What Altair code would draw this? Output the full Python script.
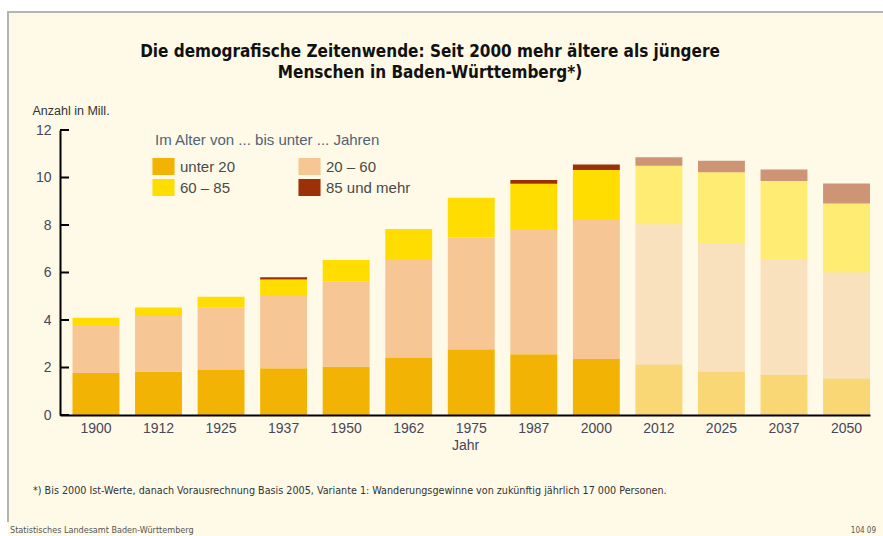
import altair as alt
import pandas as pd

years = ["1900", "1912", "1925", "1937", "1950", "1962", "1975", "1987", "2000",
         "2012", "2025", "2037", "2050"]
groups = ["unter 20", "20 – 60", "60 – 85", "85 und mehr"]
under20 = [1.77, 1.82, 1.89, 1.97, 2.03, 2.40, 2.77, 2.56, 2.36, 2.13, 1.83, 1.69, 1.54]
age20_60 = [2.02, 2.35, 2.64, 3.08, 3.60, 4.17, 4.70, 5.27, 5.85, 5.90, 5.37, 4.87, 4.46]
age60_85 = [0.31, 0.36, 0.45, 0.66, 0.90, 1.26, 1.68, 1.91, 2.11, 2.47, 3.02, 3.29, 2.91]
age85 = [0.0, 0.0, 0.0, 0.09, 0.0, 0.0, 0.0, 0.15, 0.23, 0.35, 0.49, 0.49, 0.84]
kind = ["Ist"] * 9 + ["Vorausrechnung"] * 4
colors = ["#F3B304", "#F6C795", "#FFDD00", "#9C3006"]
y_ticks = [0, 2, 4, 6, 8, 10, 12]

title_lines = ["Die demografische Zeitenwende: Seit 2000 mehr ältere als jüngere",
               "Menschen in Baden-Württemberg*)"]
footnote = ("*) Bis 2000 Ist-Werte, danach Vorausrechnung Basis 2005, Variante 1: "
            "Wanderungsgewinne von zukünftig jährlich 17 000 Personen.")
source = "Statistisches Landesamt Baden-Württemberg"
code = "104 09"

rows = []
for i, yr in enumerate(years):
    for j, (g, vals) in enumerate(zip(groups, [under20, age20_60, age60_85, age85])):
        rows.append({"Jahr": yr, "Gruppe": g, "Wert": vals[i], "idx": j, "Art": kind[i]})
df = pd.DataFrame(rows)

NARROW = "DejaVu Sans Condensed, sans-serif"
SANS = "Liberation Sans, Arial, sans-serif"
BG = "#FEFAE7"
one = pd.DataFrame({"k": [0]})

# decorative panel (cream card with grey left/top edge)
panel = alt.Chart(one).mark_rect(color=BG).encode(
    x=alt.value(-52), x2=alt.value(840), y=alt.value(-118), y2=alt.value(420)
)
edge_left = alt.Chart(one).mark_rule(color="#B4B4B4", strokeWidth=2).encode(
    x=alt.value(-52), y=alt.value(-119), y2=alt.value(392)
)
edge_top = alt.Chart(one).mark_rule(color="#B4B4B4", strokeWidth=2).encode(
    x=alt.value(-53), x2=alt.value(840), y=alt.value(-118)
)

bars = alt.Chart(df).mark_bar().encode(
    x=alt.X("Jahr:N", sort=years,
            scale=alt.Scale(paddingInner=0.25, paddingOuter=0.1, align=1),
            axis=alt.Axis(title="Jahr", labelAngle=0, ticks=False, domainColor="#000",
                          domainWidth=2, labelFont=SANS, labelFontSize=14,
                          labelColor="#474759", labelPadding=6, titleFont=SANS,
                          titleFontSize=14, titleFontWeight="normal", titleColor="#474759",
                          titlePadding=3, zindex=2)),
    y=alt.Y("Wert:Q", stack="zero",
            scale=alt.Scale(domain=[0, 12], nice=False),
            axis=alt.Axis(values=y_ticks, title="Anzahl in Mill.", ticks=False, grid=False,
                          domainColor="#000", domainWidth=2, labelFont=SANS,
                          labelFontSize=14, labelColor="#474759", labelPadding=9,
                          titleAngle=0, titleAlign="left", titleBaseline="alphabetic",
                          titleX=-28, titleY=-16, titleFont=SANS, titleFontSize=12.5,
                          titleFontWeight="normal", titleColor="#333", zindex=2)),
    color=alt.Color("Gruppe:N", scale=alt.Scale(domain=groups, range=colors),
                    legend=alt.Legend(title="Im Alter von ... bis unter ... Jahren",
                                      orient="none", legendX=95, legendY=3, columns=2,
                                      direction="horizontal",
                                      gridAlign="all", columnPadding=33, rowPadding=4,
                                      padding=0, titleLimit=400, labelLimit=200,
                                      symbolType="M-1.3,-1H1.3V1H-1.3Z", symbolSize=289,
                                      symbolStrokeWidth=0, symbolOpacity=1,
                                      labelOffset=8, labelFont=SANS, labelFontSize=15,
                                      labelColor="#4a4a4a", titleFont=SANS,
                                      titleFontSize=15, titleFontWeight="normal",
                                      titleColor="#4e6478", titlePadding=10, zindex=2)),
    opacity=alt.Opacity("Art:N", scale=alt.Scale(domain=["Ist", "Vorausrechnung"],
                                                 range=[1.0, 0.5]), legend=None),
    order=alt.Order("idx:Q", sort="ascending"),
)

ticks = alt.Chart(pd.DataFrame({"v": y_ticks})).mark_rule(color="#000", strokeWidth=2).encode(
    y="v:Q", x=alt.value(0), x2=alt.value(9)
)

foot = alt.Chart(pd.DataFrame({"t": [footnote]})).mark_text(
    align="left", baseline="alphabetic", font=NARROW, fontSize=10.7, color="#333"
).encode(text="t:N", x=alt.value(-27), y=alt.value(364))

src = alt.Chart(pd.DataFrame({"t": [source]})).mark_text(
    align="left", baseline="alphabetic", font=NARROW, fontSize=9, color="#555"
).encode(text="t:N", x=alt.value(-50), y=alt.value(403))

cd = alt.Chart(pd.DataFrame({"t": [code]})).mark_text(
    align="right", baseline="alphabetic", font=NARROW, fontSize=8, color="#555"
).encode(text="t:N", x=alt.value(816), y=alt.value(403))

chart = alt.layer(panel, edge_left, edge_top, bars, ticks, foot, src, cd).properties(
    width=810, height=285,
    title=alt.TitleParams(text=title_lines, anchor="middle", font=NARROW, fontSize=17,
                          fontWeight="bold", color="#111", lineHeight=21, dx=-35, dy=76),
    autosize=alt.AutoSizeParams(type="none"),
    padding={"left": 60, "top": 130, "right": 13, "bottom": 121},
    background="#FFFFFF",
).configure_view(stroke=None)

chart.save("out.html", embed_options={"renderer": "svg", "actions": False})
